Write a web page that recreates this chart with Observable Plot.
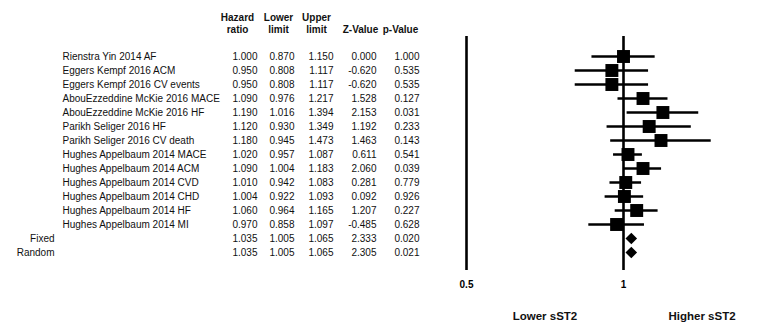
<!DOCTYPE html>
<html><head><meta charset="utf-8">
<script src="https://cdn.jsdelivr.net/npm/d3@7"></script>
<script src="https://cdn.jsdelivr.net/npm/@observablehq/plot@0.6"></script>
<style>body{margin:0;background:#fff;}</style>
</head><body><div id="chart"></div>
<script>
const studies = [
  "Rienstra Yin 2014 AF",
  "Eggers Kempf 2016 ACM",
  "Eggers Kempf 2016 CV events",
  "AbouEzzeddine McKie 2016 MACE",
  "AbouEzzeddine McKie 2016 HF",
  "Parikh Seliger 2016 HF",
  "Parikh Seliger 2016 CV death",
  "Hughes Appelbaum 2014 MACE",
  "Hughes Appelbaum 2014 ACM",
  "Hughes Appelbaum 2014 CVD",
  "Hughes Appelbaum 2014 CHD",
  "Hughes Appelbaum 2014 HF",
  "Hughes Appelbaum 2014 MI"
];
const summaryLabels = ["Fixed", "Random"];
const hazardRatio = [1.000,0.950,0.950,1.090,1.190,1.120,1.180,1.020,1.090,1.010,1.004,1.060,0.970,1.035,1.035];
const lowerLimit  = [0.870,0.808,0.808,0.976,1.016,0.930,0.945,0.957,1.004,0.942,0.922,0.964,0.858,1.005,1.005];
const upperLimit  = [1.150,1.117,1.117,1.217,1.394,1.349,1.473,1.087,1.183,1.083,1.093,1.165,1.097,1.065,1.065];
const zValue      = [0.000,-0.620,-0.620,1.528,2.153,1.192,1.463,0.611,2.060,0.281,0.092,1.207,-0.485,2.333,2.305];
const pValue      = [1.000,0.535,0.535,0.127,0.031,0.233,0.143,0.541,0.039,0.779,0.926,0.227,0.628,0.020,0.021];
const headerTop = ["Hazard", "Lower", "Upper", "", ""];
const headerBottom = ["ratio", "limit", "limit", "Z-Value", "p-Value"];
const scaleBounds = [0.5, 2];
const tickValues = [0.5, 1];
const verticalRules = [0.5, 1];
const directionLabels = ["Lower sST2", "Higher sST2"];

const labels = studies.concat(summaryLabels);
const rows = labels.map((label, i) => ({
  label, hr: hazardRatio[i], lo: lowerLimit[i], hi: upperLimit[i],
  z: zValue[i], p: pValue[i], summary: i >= studies.length
}));
const studyRows = rows.filter(d => !d.summary);
const summaryRows = rows.filter(d => d.summary);

const colKeys = ["hr", "lo", "hi", "z", "p"];
const colRight = [257, 294, 333, 376, 419];
const headerCenter = [237, 278, 316, 360, 400];

const columnMarks = colKeys.map((k, j) => Plot.text(rows, {
  y: "label", text: d => d[k].toFixed(3), frameAnchor: "left",
  dx: colRight[j], textAnchor: "end", fill: "#111"
}));
const headerMarks = [];
headerTop.forEach((t, j) => {
  if (t) headerMarks.push(Plot.text([t], {text: d => d, frameAnchor: "top-left", dx: headerCenter[j], dy: -23, fontWeight: "bold", textAnchor: "middle", fill: "#111"}));
});
headerBottom.forEach((t, j) => {
  headerMarks.push(Plot.text([t], {text: d => d, frameAnchor: "top-left", dx: headerCenter[j], dy: -11, fontWeight: "bold", textAnchor: "middle", fill: "#111"}));
});
// direction labels sit at the geometric middle of each half of the log axis
const halfCenters = [Math.sqrt(scaleBounds[0] * 1), Math.sqrt(1 * scaleBounds[1])];

const chart = Plot.plot({
  width: 775, height: 328,
  marginTop: 36, marginBottom: 58, marginLeft: 0, marginRight: 0,
  style: {fontFamily: "'Liberation Sans', Arial, sans-serif", fontSize: "10px", background: "#fff"},
  x: {type: "log", domain: scaleBounds, range: [466, 780]},
  y: {type: "point", domain: labels, range: [44, 263], axis: null},
  marks: [
    Plot.ruleX(verticalRules, {x: d => d, strokeWidth: 2.6, stroke: "#000"}),
    Plot.ruleY(studyRows, {y: "label", x1: "lo", x2: "hi", strokeWidth: 2.5, stroke: "#000"}),
    Plot.dot(studyRows, {x: "hr", y: "label", symbol: "square", r: 7.3, fill: "#000", stroke: null}),
    Plot.dot(summaryRows, {x: "hr", y: "label", symbol: "diamond2", r: 5.2, fill: "#000", stroke: null}),
    Plot.text(studyRows, {y: "label", text: "label", frameAnchor: "left", dx: 62, textAnchor: "start", fill: "#111"}),
    Plot.text(summaryRows, {y: "label", text: "label", frameAnchor: "left", dx: 54, textAnchor: "end", fill: "#111"}),
    ...columnMarks,
    ...headerMarks,
    Plot.axisX({ticks: tickValues, tickSize: 0, tickPadding: 10, fontWeight: "bold", tickFormat: d => String(d), label: null}),
    Plot.text(directionLabels, {
      x: (d, i) => halfCenters[i],
      text: d => d, frameAnchor: "bottom", dy: 49, fontWeight: "bold", fontSize: 11.5, fill: "#111"
    })
  ]
});
document.getElementById("chart").appendChild(chart);
</script>
</body></html>
